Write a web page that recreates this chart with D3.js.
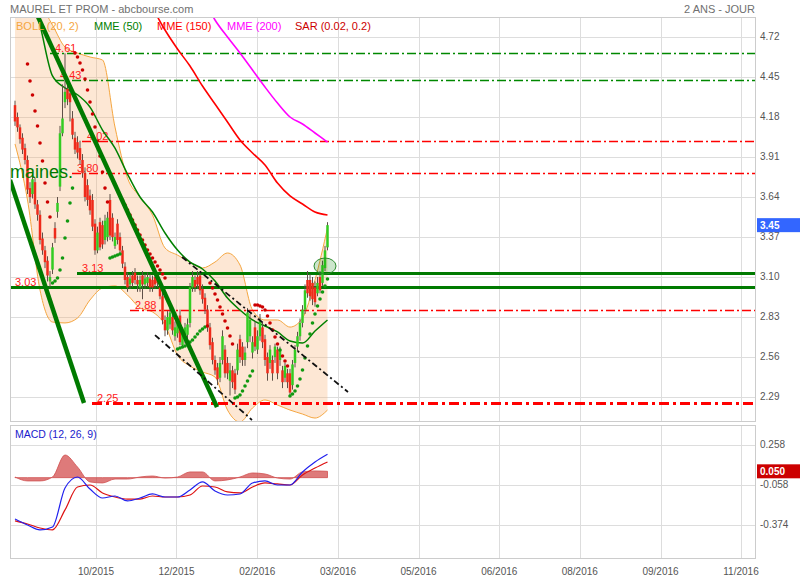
<!DOCTYPE html>
<html><head><meta charset="utf-8">
<script src="https://cdn.jsdelivr.net/npm/d3@7"></script>
<style>body{margin:0;background:#fff;} svg{font-family:"Liberation Sans",Arial,sans-serif;display:block;}</style>
</head><body><svg id="c" width="800" height="580"></svg>
<script>
// ---------- DATA ----------
const openP = [4.26,4.18,4.11,4.04,3.97,3.89,3.70,3.66,3.74,3.59,3.52,3.36,3.28,3.21,3.07,3.15,3.43,3.54,3.71,4.07,
4.28,4.37,4.34,4.17,4.04,4.01,3.97,3.89,3.80,3.72,3.65,3.62,3.46,3.28,3.47,3.45,3.35,3.37,3.62,3.50,
3.31,3.46,3.37,3.28,3.17,3.10,3.05,3.11,3.13,3.08,3.03,3.11,3.05,3.06,3.09,3.08,3.10,3.09,3.03,2.97,
2.81,2.74,2.78,2.83,2.70,2.72,2.84,2.64,2.68,2.71,2.79,3.03,3.08,3.10,3.11,3.02,2.96,2.88,2.76,2.66,
2.54,2.49,2.42,2.54,2.61,2.52,2.40,2.47,2.45,2.47,2.68,2.63,2.54,2.66,2.70,2.59,2.76,2.61,2.70,2.76,
2.68,2.56,2.52,2.54,2.56,2.61,2.54,2.47,2.42,2.45,2.45,2.37,2.52,2.63,2.70,2.79,2.88,3.08,3.08,3.06,
3.03,2.99,3.10,3.06,3.16,3.30];
const highP = [4.29,4.21,4.13,4.07,4.00,3.92,3.74,3.80,3.77,3.62,3.55,3.40,3.31,3.24,3.14,3.33,3.47,3.64,4.12,4.40,
4.61,4.45,4.38,4.22,4.08,4.05,4.02,3.93,3.84,3.76,3.69,3.66,3.49,3.44,3.50,3.48,3.52,3.54,3.66,3.53,
3.40,3.49,3.40,3.31,3.20,3.13,3.12,3.14,3.16,3.11,3.11,3.14,3.12,3.13,3.12,3.11,3.13,3.12,3.08,3.00,
2.84,2.87,2.90,2.86,2.80,2.83,2.88,2.76,2.79,2.82,3.06,3.14,3.11,3.14,3.14,3.05,2.99,2.91,2.79,2.69,
2.57,2.52,2.56,2.74,2.64,2.56,2.52,2.50,2.48,2.65,2.71,2.66,2.63,2.89,2.85,2.70,2.80,2.74,2.85,2.79,
2.71,2.59,2.64,2.57,2.65,2.63,2.63,2.50,2.52,2.48,2.48,2.54,2.64,2.73,2.82,2.91,3.05,3.14,3.12,3.10,
3.07,3.10,3.14,3.21,3.31,3.47];
const lowP = [4.12,4.08,4.00,3.93,3.86,3.66,3.60,3.63,3.56,3.48,3.32,3.25,3.16,3.07,3.03,3.12,3.33,3.50,3.68,4.05,
4.24,4.26,4.15,4.03,3.93,3.90,3.86,3.77,3.61,3.58,3.52,3.41,3.25,3.26,3.28,3.29,3.32,3.34,3.35,3.34,
3.29,3.32,3.26,3.16,3.05,3.00,3.02,3.03,3.05,3.00,3.00,2.95,3.02,3.03,3.00,3.00,3.02,3.03,2.95,2.78,
2.70,2.71,2.75,2.71,2.67,2.69,2.64,2.62,2.65,2.68,2.76,3.00,3.00,3.02,2.98,2.92,2.85,2.73,2.61,2.51,
2.44,2.37,2.39,2.51,2.42,2.41,2.30,2.35,2.31,2.44,2.52,2.50,2.50,2.62,2.66,2.55,2.60,2.58,2.67,2.62,
2.50,2.40,2.48,2.40,2.52,2.41,2.50,2.35,2.39,2.35,2.29,2.34,2.49,2.60,2.67,2.76,2.85,2.96,2.94,2.91,
2.90,2.97,2.99,3.04,3.14,3.28];
const closeP = [4.15,4.11,4.03,3.96,3.89,3.69,3.64,3.76,3.59,3.52,3.35,3.28,3.20,3.11,3.10,3.30,3.36,3.60,4.07,4.17,
4.35,4.30,4.28,4.06,3.96,3.94,3.89,3.80,3.64,3.62,3.55,3.44,3.28,3.40,3.30,3.32,3.48,3.50,3.38,3.37,
3.37,3.35,3.28,3.19,3.08,3.03,3.09,3.06,3.08,3.05,3.08,3.05,3.09,3.10,3.03,3.03,3.05,3.06,2.97,2.81,
2.74,2.83,2.86,2.74,2.76,2.79,2.66,2.72,2.76,2.78,3.03,3.10,3.03,3.05,3.01,2.95,2.88,2.76,2.64,2.54,
2.47,2.41,2.52,2.70,2.45,2.45,2.47,2.39,2.34,2.61,2.56,2.54,2.59,2.86,2.81,2.66,2.63,2.70,2.81,2.66,
2.54,2.45,2.61,2.45,2.63,2.45,2.61,2.39,2.50,2.39,2.32,2.51,2.61,2.70,2.79,2.88,3.01,2.99,2.97,2.95,
2.93,3.06,3.01,3.18,3.28,3.45];

// Parabolic SAR (0.02, 0.2) read per bar; null = not visible
const sarP = [null,null,null,null,null,
4.538,4.423,4.328,4.221,4.119,4.004,3.883,3.734,3.606,3.505,
3.06,3.073,3.093,3.147,3.228,3.363,3.478,3.599,3.70,
4.612,4.585,4.544,4.497,4.436,4.362,4.281,4.20,4.112,4.018,3.917,3.809,3.70,3.606,
3.228,3.235,3.242,3.248,3.255,
3.62,3.586,3.552,3.518,3.485,3.451,3.417,3.383,3.35,3.316,3.282,3.255,3.228,3.201,3.174,3.147,3.12,3.093,
null,null,null,null,
2.614,2.621,2.627,2.634,2.648,2.661,2.675,2.695,2.715,2.735,2.749,2.762,2.769,
3.06,3.026,2.985,2.945,2.897,2.85,2.803,2.756,2.702,2.648,
2.283,2.29,2.303,2.33,2.364,2.398,2.432,2.466,
2.911,2.911,2.904,2.897,2.877,2.837,2.79,2.742,2.695,2.648,2.607,2.567,2.533,2.499,
2.297,2.31,2.33,2.364,2.411,2.472,2.553,2.634,2.715,2.79,2.85,2.904,2.951,2.999,3.039,3.086];

// indicator lines, sampled every 5 bars
const sampleIdx = [0,5,10,15,20,25,30,35,40,45,50,55,60,65,70,75,80,85,90,95,100,105,110,115,120,125];
const bollUpper = [4.936,4.97,4.936,4.80,4.652,4.612,4.585,4.565,4.112,3.768,3.64,3.518,3.296,3.248,3.201,3.161,3.201,3.262,3.181,2.877,2.81,2.81,2.762,2.823,3.08,3.431];
const bollLower = [3.998,3.62,3.012,2.796,2.79,2.823,2.945,3.026,3.04,2.978,2.891,2.864,2.776,2.573,2.499,2.459,2.425,2.202,2.121,2.216,2.27,2.236,2.202,2.175,2.148,2.202];
const mme50 = [5.375,5.105,4.80,4.457,4.376,4.33,4.247,4.092,3.97,3.795,3.64,3.539,3.397,3.282,3.201,3.154,3.073,2.958,2.877,2.81,2.769,2.729,2.668,2.654,2.735,2.81];
const mme150 = [null,null,null,null,null,null,null,null,null,null,5.051,4.916,4.767,4.639,4.524,4.389,4.268,4.146,4.025,3.937,3.856,3.734,3.647,3.593,3.539,3.519];
const mme200 = [null,null,null,null,null,null,null,null,null,null,null,null,null,null,null,4.99,4.835,4.72,4.612,4.497,4.382,4.274,4.18,4.133,4.072,4.011];

const macdLine = [-0.327,-0.374,-0.413,-0.39,-0.082,0.005,-0.090,-0.161,-0.145,-0.184,-0.161,-0.129,-0.153,-0.153,-0.097,-0.034,-0.105,-0.137,-0.129,-0.042,-0.026,-0.058,-0.058,0.045,0.124,0.185];
const macdSignal = [-0.342,-0.366,-0.398,-0.413,-0.255,-0.074,-0.058,-0.121,-0.153,-0.169,-0.169,-0.145,-0.153,-0.153,-0.137,-0.066,-0.074,-0.113,-0.121,-0.074,-0.042,-0.050,-0.058,0.021,0.076,0.124];
const macdHist = [0.005,-0.026,-0.026,0.005,0.179,0.084,-0.034,-0.042,-0.011,-0.011,0.005,0.013,-0.003,0.005,0.045,0.045,-0.026,-0.018,0.005,0.037,0.029,-0.003,-0.011,0.045,0.053,0.050];

// horizontal levels (value, first bar index, type)
const levelVals  = [4.61, 4.43, 4.02, 3.80, 3.13, 3.03, 2.88, 2.25];
const levelStart = [14, 16, 26.8, 22.8, 24.8, -2, 46, 30.8];
const levelType  = ["resist","resist","dash","dash","support","support","dash","major"];
// trend lines [idx0, val0, idx1, val1]
const trendThick = [[-2, 3.755, 27.6, 2.25], [8, 4.90, 80.8, 2.222]];
const trendChannel = [[66.8, 3.235, 133.2, 2.324], [56, 2.708, 94.8, 2.135]];
const markIdx = 124, markVal = 3.174;
const noteText = "maines.", noteIdx = -2, noteVal = 3.768;

const priceTicks = [4.72,4.45,4.18,3.91,3.64,3.37,3.10,2.83,2.56,2.29];
const macdTicks = [0.258,-0.058,-0.374];
const dateTickIdx = [32.4,64.6,96.9,129.2,161.4,193.7,225.9,258.2,290.4];
const dateTickLabels = ["10/2015","12/2015","02/2016","03/2016","05/2016","06/2016","08/2016","09/2016","11/2016"];
const legendLabels = ["BOLL (20, 2)","MME (50)","MME (150)","MME (200)","SAR (0.02, 0.2)"];
const title = "MAUREL ET PROM - abcbourse.com", period = "2 ANS - JOUR", macdTitle = "MACD (12, 26, 9)";

// ---------- DRAW ----------
const svg = d3.select("#c");
const L = 10, R = 755, T = 17, B = 421, MT = 425, MB = 558;
const x = d3.scaleLinear().domain([-2, 296]).range([L, R]);
const y = d3.scaleLinear().domain([2.128, 4.855]).range([B, T]);
const ym = d3.scaleLinear().domain([-0.635, 0.416]).range([MB, MT]);
const crisp = v => Math.round(v) + 0.5;

svg.append("rect").attr("width",800).attr("height",580).attr("fill","#fff");
const defs = svg.append("defs");
defs.append("clipPath").attr("id","cm").append("rect").attr("x",L).attr("y",T).attr("width",R-L).attr("height",B-T);
defs.append("clipPath").attr("id","cd").append("rect").attr("x",L).attr("y",MT).attr("width",R-L).attr("height",MB-MT);

const grid = "#dddddd";
// main grid
const gm = svg.append("g").attr("clip-path","url(#cm)");
gm.selectAll(".hg").data(priceTicks).join("line").attr("x1",L).attr("x2",R)
  .attr("y1",d=>crisp(y(d))).attr("y2",d=>crisp(y(d))).attr("stroke",grid);
gm.selectAll(".vg").data(dateTickIdx).join("line").attr("y1",T).attr("y2",B)
  .attr("x1",d=>crisp(x(d))).attr("x2",d=>crisp(x(d))).attr("stroke",grid);

// Bollinger
const bollData = sampleIdx.map((s,k)=>({s,u:bollUpper[k],l:bollLower[k]}));
gm.append("path").datum(bollData)
  .attr("d", d3.area().x(d=>x(d.s)).y0(d=>y(d.l)).y1(d=>y(d.u)).curve(d3.curveMonotoneX))
  .attr("fill","#f8b070").attr("fill-opacity",0.3);
["u","l"].forEach(key=>{
  gm.append("path").datum(bollData)
    .attr("d", d3.line().x(d=>x(d.s)).y(d=>y(d[key])).curve(d3.curveMonotoneX))
    .attr("fill","none").attr("stroke","#f5a640").attr("stroke-width",1);
});

// legend
const legendColors = ["#f5a640","#008000","#ff0000","#ff00ff","#cc0000"];
const legendX = [16, 94, 157, 227, 295];
svg.selectAll(".lg").data(legendLabels).join("text").attr("x",(d,i)=>legendX[i]).attr("y",30)
  .attr("font-size",11).attr("fill",(d,i)=>legendColors[i]).text(d=>d);

// levels
const levelStyle = {
  resist: {stroke:"#008800", w:1.3, dash:"9,3,2,3"},
  dash:   {stroke:"#ff0000", w:1.3, dash:"9,3,2,3"},
  support:{stroke:"#007a00", w:3, dash:null},
  major:  {stroke:"#ff0000", w:3, dash:"10,4,3,4"}
};
levelVals.forEach((v,i)=>{
  const st = levelStyle[levelType[i]];
  const yy = Math.round(y(v)) + 0.5;
  gm.append("line").attr("x1",x(levelStart[i])).attr("x2",R).attr("y1",yy).attr("y2",yy)
    .attr("stroke",st.stroke).attr("stroke-width",st.w).attr("stroke-dasharray",st.dash);
  gm.append("text").attr("x",x(levelStart[i])+5).attr("y",yy-2).attr("font-size",11)
    .attr("fill","#ff2020").text(v.toFixed(2));
});

// moving averages
const maLine = arr => d3.line().defined((d,k)=>arr[k]!=null).x((d,k)=>x(sampleIdx[k])).y((d,k)=>y(arr[k])).curve(d3.curveMonotoneX)(sampleIdx);
[[mme150,"#ff0000",1.6],[mme200,"#ff00ff",1.6],[mme50,"#008000",1.5]].forEach(([arr,c,w])=>{
  gm.append("path").attr("d",maLine(arr)).attr("fill","none").attr("stroke",c).attr("stroke-width",w);
});

// candles
const bars = closeP.map((c,i)=>({i,o:openP[i],h:highP[i],l:lowP[i],c}));
const cg = gm.append("g");
cg.selectAll(".wk").data(bars).join("line")
  .attr("x1",d=>x(d.i)).attr("x2",d=>x(d.i)).attr("y1",d=>y(d.h)).attr("y2",d=>y(d.l))
  .attr("stroke","#5e5048").attr("stroke-width",1);
cg.selectAll(".bd").data(bars).join("rect")
  .attr("x",d=>x(d.i)-1.25).attr("width",2.5)
  .attr("y",d=>y(Math.max(d.o,d.c))).attr("height",d=>Math.max(1,Math.abs(y(d.o)-y(d.c))))
  .attr("fill",d=>d.c>=d.o?"#33cc22":"#ee2a1a");

// SAR
gm.selectAll(".sar").data(sarP.map((v,i)=>({i,v})).filter(d=>d.v!=null)).join("circle")
  .attr("cx",d=>x(d.i)).attr("cy",d=>y(d.v)).attr("r",1.8)
  .attr("fill",d=>d.v>closeP[d.i]?"#cc0000":"#119911");

// trend lines
trendThick.forEach(t=>{
  gm.append("line").attr("x1",x(t[0])).attr("y1",y(t[1])).attr("x2",x(t[2])).attr("y2",y(t[3]))
    .attr("stroke","#007a00").attr("stroke-width",4.5);
});
trendChannel.forEach(t=>{
  gm.append("line").attr("x1",x(t[0])).attr("y1",y(t[1])).attr("x2",x(t[2])).attr("y2",y(t[3]))
    .attr("stroke","#111").attr("stroke-width",1.8).attr("stroke-dasharray","6,3,2,3");
});
gm.append("ellipse").attr("cx",x(markIdx)).attr("cy",y(markVal)).attr("rx",11).attr("ry",8)
  .attr("fill","#008000").attr("fill-opacity",0.2).attr("stroke","#2a8a2a").attr("stroke-width",1);
gm.append("text").attr("x",x(noteIdx)).attr("y",y(noteVal)).attr("font-size",18).attr("fill","#007a00").text(noteText);

// main border
svg.append("rect").attr("x",L+0.5).attr("y",T+0.5).attr("width",R-L).attr("height",B-T)
  .attr("fill","none").attr("stroke","#cccccc");

// right axis
svg.selectAll(".pt").data(priceTicks).join("text").attr("x",760).attr("y",d=>y(d)+3)
  .attr("font-size",10).attr("fill","#555").text(d=>d.toFixed(2));
const last = closeP[closeP.length-1];
svg.append("rect").attr("x",757).attr("y",y(last)-7).attr("width",43).attr("height",14).attr("fill","#3366ff");
svg.append("text").attr("x",760).attr("y",y(last)+4).attr("font-size",10).attr("font-weight","bold")
  .attr("fill","#fff").text(last.toFixed(2));

// title
svg.append("text").attr("x",10).attr("y",13).attr("font-size",11).attr("fill","#707070").text(title);
svg.append("text").attr("x",755).attr("y",13).attr("font-size",11).attr("fill","#707070").attr("text-anchor","end").text(period);

// ---------- MACD panel ----------
const gd = svg.append("g").attr("clip-path","url(#cd)");
gd.selectAll(".hg").data(macdTicks).join("line").attr("x1",L).attr("x2",R)
  .attr("y1",d=>crisp(ym(d))).attr("y2",d=>crisp(ym(d))).attr("stroke",grid);
gd.selectAll(".vg").data(dateTickIdx).join("line").attr("y1",MT).attr("y2",MB)
  .attr("x1",d=>crisp(x(d))).attr("x2",d=>crisp(x(d))).attr("stroke",grid);
gd.append("path").datum(sampleIdx)
  .attr("d", d3.area().x(d=>x(d)).y0(ym(0)).y1((d,k)=>ym(macdHist[k])).curve(d3.curveMonotoneX))
  .attr("fill","#cc3333").attr("fill-opacity",0.65).attr("stroke","#d05050").attr("stroke-width",0.8);
gd.append("path").datum(sampleIdx)
  .attr("d", d3.line().x(d=>x(d)).y((d,k)=>ym(macdSignal[k])).curve(d3.curveMonotoneX))
  .attr("fill","none").attr("stroke","#dd1111").attr("stroke-width",1.2);
gd.append("path").datum(sampleIdx)
  .attr("d", d3.line().x(d=>x(d)).y((d,k)=>ym(macdLine[k])).curve(d3.curveMonotoneX))
  .attr("fill","none").attr("stroke","#2020ee").attr("stroke-width",1.2);
svg.append("rect").attr("x",L+0.5).attr("y",MT+0.5).attr("width",R-L).attr("height",MB-MT)
  .attr("fill","none").attr("stroke","#cccccc");
svg.append("text").attr("x",15).attr("y",438).attr("font-size",10.5).attr("fill","#1a1acc").text(macdTitle);
svg.selectAll(".mt").data(macdTicks).join("text").attr("x",760).attr("y",d=>ym(d)+3)
  .attr("font-size",10).attr("fill","#555").text(d=>d.toFixed(3));
const lastH = macdHist[macdHist.length-1];
svg.append("rect").attr("x",757).attr("y",ym(lastH)-7).attr("width",43).attr("height",14).attr("fill","#cc0000");
svg.append("text").attr("x",760).attr("y",ym(lastH)+4).attr("font-size",10).attr("font-weight","bold")
  .attr("fill","#fff").text(lastH.toFixed(3));

// date axis
svg.selectAll(".dt").data(dateTickLabels).join("text").attr("x",(d,i)=>x(dateTickIdx[i])).attr("y",575)
  .attr("text-anchor","middle").attr("font-size",10).attr("fill","#555").text(d=>d);
</script></body></html>
